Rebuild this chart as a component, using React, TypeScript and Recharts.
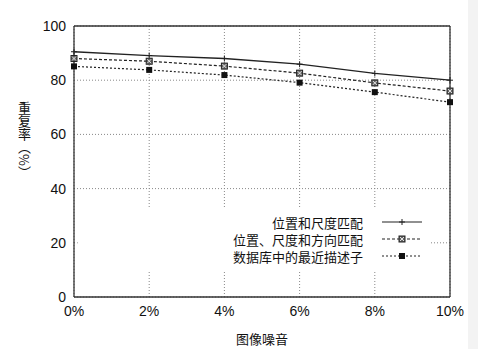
import {
  LineChart,
  Line,
  XAxis,
  YAxis,
  CartesianGrid,
  ReferenceLine,
  ReferenceArea,
} from "recharts";

// noise level (%) on x, repeat rate (%) on y
const noiseLevels = [0, 2, 4, 6, 8, 10];
const posScaleMatch = [90.5, 89.1, 88.0, 85.9, 82.5, 80.0];
const posScaleOriMatch = [88.0, 87.0, 85.2, 82.6, 79.0, 76.0];
const nearestDescriptor = [85.1, 83.8, 81.9, 79.1, 75.6, 71.9];
const seriesNames = ["位置和尺度匹配", "位置、尺度和方向匹配", "数据库中的最近描述子"];
const yTicks = [0, 20, 40, 60, 80, 100];

const data = noiseLevels.map((n, i) => ({
  noise: n,
  a: posScaleMatch[i],
  b: posScaleOriMatch[i],
  c: nearestDescriptor[i],
}));

const INK = "#222";
const CJK = '"Noto Sans CJK SC", sans-serif';
const LATIN = '"Liberation Sans", Arial, sans-serif';

const PlusDot = (props: any) => {
  const { cx, cy } = props;
  if (cx == null || cy == null) return null;
  return (
    <path
      d={`M${cx - 3},${cy}H${cx + 3}M${cx},${cy - 3}V${cy + 3}`}
      stroke={INK}
      strokeWidth={1}
    />
  );
};

const CrossBoxDot = (props: any) => {
  const { cx, cy } = props;
  if (cx == null || cy == null) return null;
  return (
    <g>
      <rect x={cx - 3} y={cy - 3} width={6} height={6} fill="#666" stroke={INK} strokeWidth={1} />
      <path
        d={`M${cx - 2},${cy - 2}L${cx + 2},${cy + 2}M${cx + 2},${cy - 2}L${cx - 2},${cy + 2}`}
        stroke="#fff"
        strokeWidth={0.8}
      />
    </g>
  );
};

const SquareDot = (props: any) => {
  const { cx, cy } = props;
  if (cx == null || cy == null) return null;
  return <rect x={cx - 3} y={cy - 3} width={6} height={6} fill="#111" />;
};

const legendStyles = [
  { dash: undefined, Dot: PlusDot },
  { dash: "3 2", Dot: CrossBoxDot },
  { dash: "2 2", Dot: SquareDot },
];

const ChartLegend = () => (
  <svg
    width={478}
    height={60}
    style={{ position: "absolute", left: 0, top: 212, display: "block" }}
  >
    {seriesNames.map((name, i) => {
      const y = 10 + i * 17;
      const { dash, Dot } = legendStyles[i];
      return (
        <g key={name}>
          <text
            x={363}
            y={y}
            textAnchor="end"
            dominantBaseline="central"
            fontFamily={CJK}
            fontSize={13}
            fill="#111"
          >
            {name}
          </text>
          <line x1={382} x2={422} y1={y} y2={y} stroke={INK} strokeWidth={1.2} strokeDasharray={dash} />
          <Dot cx={402} cy={y} />
        </g>
      );
    })}
  </svg>
);

export default function App() {
  return (
    <div
      style={{
        position: "absolute",
        left: 0,
        top: 0,
        width: 478,
        height: 349,
        background: "#fff",
      }}
    >
      <div
        style={{
          position: "absolute",
          right: 0,
          top: 0,
          width: 10,
          height: 349,
          background: "#f3f3f3",
        }}
      />
      <LineChart
        width={478}
        height={349}
        data={data}
        margin={{ top: 26, right: 28, left: 34, bottom: 2 }}
      >
        <CartesianGrid stroke="#888" strokeDasharray="1 2" />
        <ReferenceArea
          x1={0.1}
          x2={9.45}
          y1={9.5}
          y2={33}
          fill="#fff"
          fillOpacity={1}
          stroke="none"
        />
        <XAxis
          dataKey="noise"
          type="number"
          domain={[0, 10]}
          ticks={noiseLevels}
          tickFormatter={(v) => `${v}%`}
          height={50}
          tickSize={0}
          tickMargin={9}
          stroke="#333"
          strokeWidth={1.3}
          tick={{ fill: "#111", fontSize: 14, fontFamily: LATIN }}
          label={{
            value: "图像噪音",
            position: "insideBottom",
            offset: 3,
            style: { fill: "#111", fontSize: 13, fontFamily: CJK },
          }}
        />
        <YAxis
          type="number"
          domain={[0, 100]}
          ticks={yTicks}
          width={40}
          tickSize={0}
          tickMargin={8}
          stroke="#333"
          strokeWidth={1.3}
          tick={{ fill: "#111", fontSize: 14, fontFamily: LATIN }}
        />
        <ReferenceLine y={100} stroke="#333" strokeWidth={1.3} />
        <ReferenceLine x={10} stroke="#333" strokeWidth={1.3} />
        <Line
          dataKey="a"
          name={seriesNames[0]}
          stroke={INK}
          strokeWidth={1.3}
          dot={<PlusDot />}
          isAnimationActive={false}
        />
        <Line
          dataKey="b"
          name={seriesNames[1]}
          stroke={INK}
          strokeWidth={1.2}
          strokeDasharray="3 2"
          dot={<CrossBoxDot />}
          isAnimationActive={false}
        />
        <Line
          dataKey="c"
          name={seriesNames[2]}
          stroke={INK}
          strokeWidth={1.2}
          strokeDasharray="2 2"
          dot={<SquareDot />}
          isAnimationActive={false}
        />
      </LineChart>
      <ChartLegend />
      <div
        style={{
          position: "absolute",
          left: 18,
          top: 102,
          writingMode: "vertical-rl",
          fontFamily: CJK,
          fontSize: 13,
          color: "#111",
          lineHeight: 1,
        }}
      >
        重复率（%）
      </div>
    </div>
  );
}
